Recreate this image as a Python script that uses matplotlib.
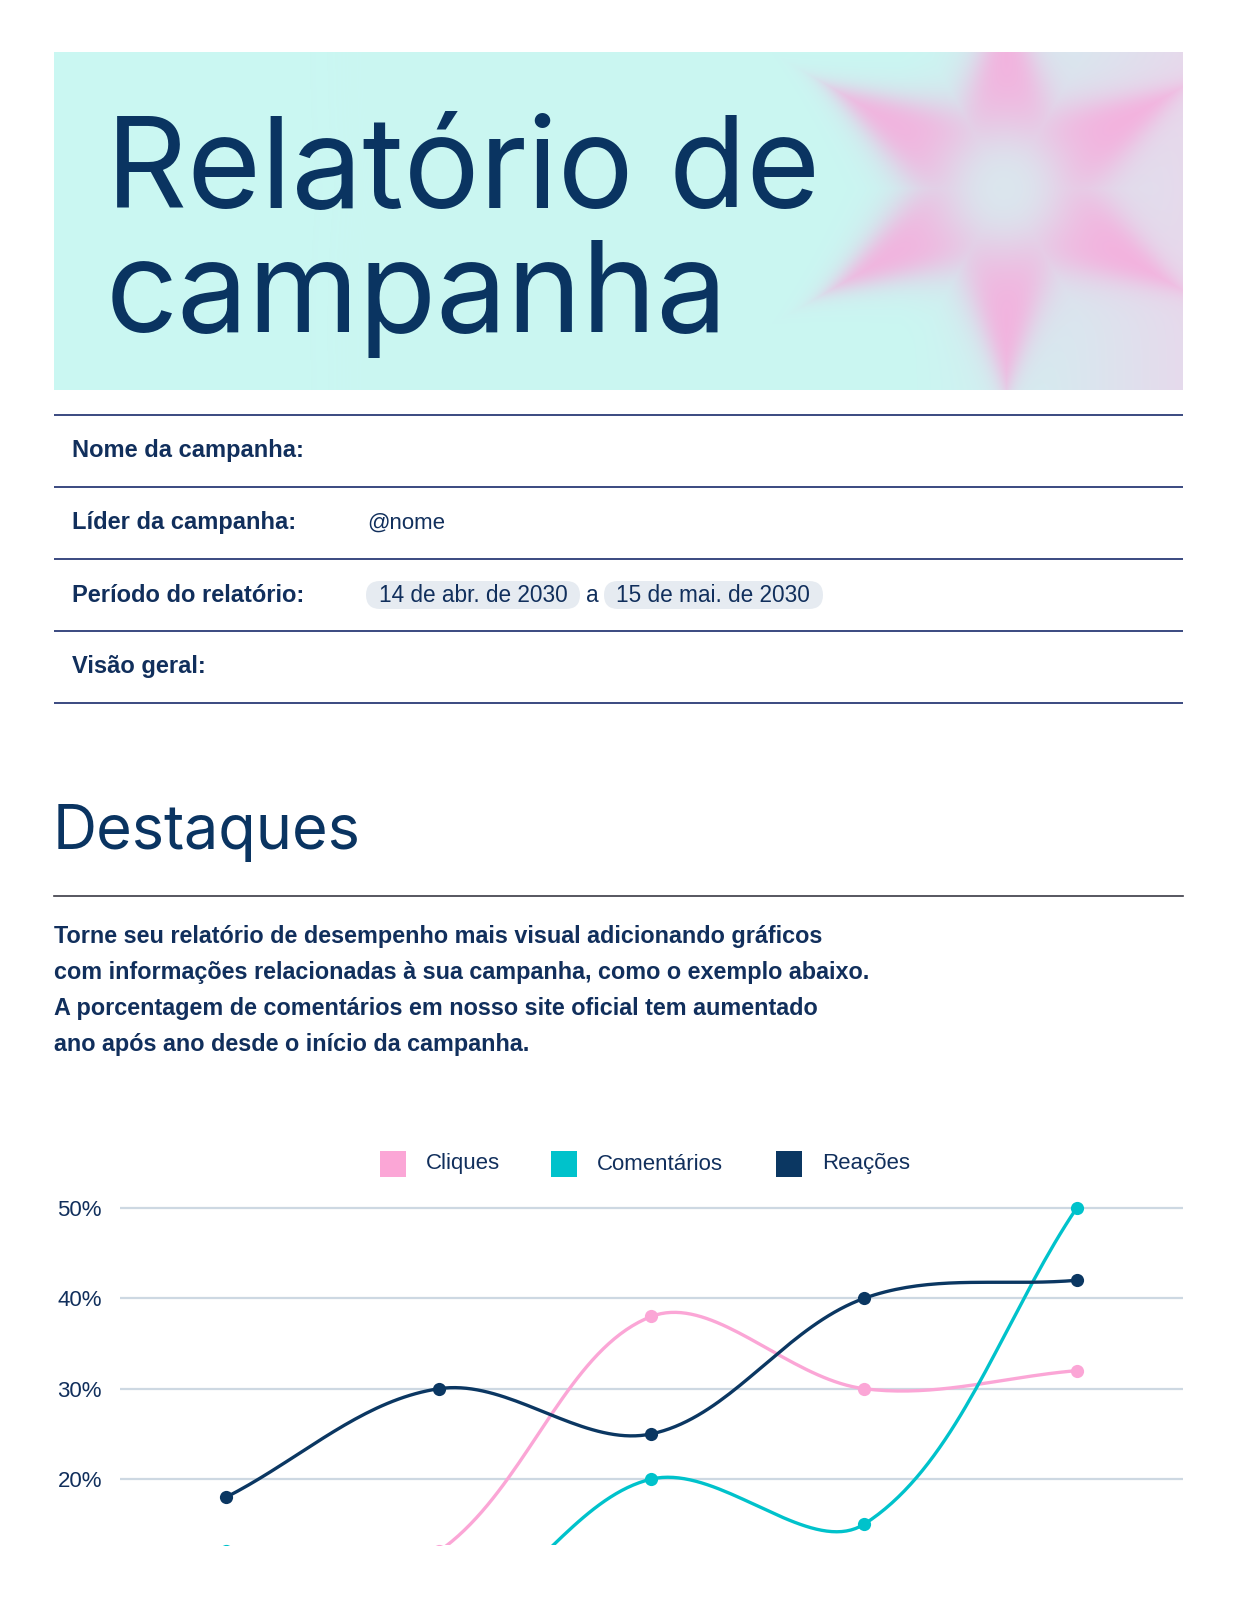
import numpy as np
import matplotlib
matplotlib.use('Agg')
import matplotlib.pyplot as plt
from matplotlib.patches import Rectangle, FancyBboxPatch

# chart data
periods = ['P1', 'P2', 'P3', 'P4', 'P5']
series_names = ['Cliques', 'Comentários', 'Reações']
cliques = [5, 12, 38, 30, 32]
comentarios = [12, 4, 20, 15, 50]
reacoes = [18, 30, 25, 40, 42]
y_ticks = [20, 30, 40, 50]
y_tick_labels = ['20%', '30%', '40%', '50%']

# page text
title_lines = ['Relatório de', 'campanha']
table_labels = ['Nome da campanha:', 'Líder da campanha:', 'Período do relatório:', 'Visão geral:']
leader = '@nome'
date_from = '14 de abr. de 2030'
date_to = '15 de mai. de 2030'
section = 'Destaques'
paragraph = ['Torne seu relatório de desempenho mais visual adicionando gráficos',
             'com informações relacionadas à sua campanha, como o exemplo abaixo.',
             'A porcentagem de comentários em nosso site oficial tem aumentado',
             'ano após ano desde o início da campanha.']

NAVY = '#0A3461'
TEXT = '#112F5C'
PINK = '#FBA6D6'
CYAN = '#00C2CB'
LINE_NAVY = '#0B3762'
GRID = '#CDD8E2'

W, H = 1237, 1600
fig = plt.figure(figsize=(W / 100, H / 100), dpi=100)
fig.patch.set_facecolor('white')


def frac(x0, y0, x1, y1):
    return [x0 / W, 1 - y1 / H, (x1 - x0) / W, (y1 - y0) / H]


# header background with blurred star
hx0, hy0, hx1, hy1 = 54, 52, 1183, 390
ax_h = fig.add_axes(frac(hx0, hy0, hx1, hy1))
ax_h.axis('off')
gx, gy = np.meshgrid(np.arange(hx0, hx1), np.arange(hy0, hy1))
cyan_bg = np.array([0xCA, 0xF7, 0xF2]) / 255
lav_bg = np.array([0xE6, 0xDA, 0xEC]) / 255
t = np.clip((gx - 900) / (hx1 - 900), 0, 1) ** 1.2
bg = cyan_bg[None, None, :] * (1 - t[..., None]) + lav_bg[None, None, :] * t[..., None]

# six-point star outline (tips up/down and at +-30 deg)
dx, dy = gx - 1006, gy - 188
r = np.hypot(dx, dy)
th = np.arctan2(-dy, dx) - np.pi / 2
phi = np.abs((th + np.pi / 6) % (np.pi / 3) - np.pi / 6)
r_out, r_in = 205, 92
tip = np.array([r_out, 0.0])
val = r_in * np.array([np.cos(np.pi / 6), np.sin(np.pi / 6)])
e = val - tip
num = tip[0] * e[1] - tip[1] * e[0]
den = np.cos(phi) * e[1] - np.sin(phi) * e[0]
R = num / den
inside = 1 / (1 + np.exp((r - R) / 16))
pale = np.exp(-(r / 60) ** 2)
w = inside * (1 - 0.8 * pale) * 0.92
pink_c = np.array([0xF5, 0xAE, 0xDD]) / 255
pale_c = np.array([0xDC, 0xE7, 0xEE]) / 255
img = bg * (1 - w[..., None]) + pink_c * w[..., None]
pw = pale * 0.7
img = img * (1 - pw[..., None]) + pale_c * pw[..., None]
ax_h.imshow(img, extent=[hx0, hx1, hy1, hy0], aspect='auto')

# overlay in pixel coordinates
ov = fig.add_axes([0, 0, 1, 1])
ov.set_xlim(0, W)
ov.set_ylim(H, 0)
ov.axis('off')
ov.patch.set_alpha(0)

ov.text(106, 208, title_lines[0], fontsize=91, family='Inter', color=NAVY, va='baseline')
ov.text(106, 332, title_lines[1], fontsize=91, family='Inter', color=NAVY, va='baseline')

for yy in [415, 487, 559, 631, 703]:
    ov.plot([54, 1183], [yy, yy], color='#2B3B76', lw=1.3, solid_capstyle='butt')
row_y = [451, 523, 595, 667]
for lab, yy in zip(table_labels, row_y):
    ov.text(72, yy, lab, fontsize=17, family='Liberation Sans', weight='bold', color=TEXT, va='center')
ov.text(367, row_y[1], leader, fontsize=16, family='Liberation Sans', color=TEXT, va='center')
for (px0, px1) in [(366, 580), (604, 823)]:
    ov.add_patch(FancyBboxPatch((px0, 581), px1 - px0, 28,
                                boxstyle='round,pad=0,rounding_size=14',
                                fc='#E6EBF1', ec='none'))
ov.text(473, row_y[2], date_from, fontsize=16.3, family='Liberation Sans', color=TEXT, va='center', ha='center')
ov.text(592, row_y[2], 'a', fontsize=16.3, family='Liberation Sans', color=TEXT, va='center', ha='center')
ov.text(713, row_y[2], date_to, fontsize=16.3, family='Liberation Sans', color=TEXT, va='center', ha='center')

ov.text(53, 849, section, fontsize=44, family='Inter', color=NAVY, va='baseline')
ov.plot([54, 1183], [896, 896], color='#3A3A44', lw=1.2)
for i, line in enumerate(paragraph):
    ov.text(54, 937 + i * 36, line, fontsize=16.8, family='Liberation Sans', weight='bold',
            color=TEXT, va='center')

# legend
colors = [PINK, CYAN, LINE_NAVY]
leg_sq_x = [380, 551, 776]
for name, c, lx in zip(series_names, colors, leg_sq_x):
    ov.add_patch(Rectangle((lx, 1151), 26, 26, fc=c, ec='none'))
    ov.text(lx + 46, 1164, name, fontsize=16, family='Liberation Sans', color=TEXT, va='center')

# chart
ax = fig.add_axes(frac(120, 1195, 1183, 1545))
x = np.arange(len(periods))
ax.set_xlim(-0.5, len(periods) - 0.5)
ax.set_ylim(12.7, 51.44)
ax.set_yticks(y_ticks)
ax.set_yticklabels(y_tick_labels)
ax.set_xticks([])
for s in ax.spines.values():
    s.set_visible(False)
ax.tick_params(axis='y', length=0, pad=13, labelsize=16, labelcolor=TEXT)
for lbl in ax.get_yticklabels():
    lbl.set_family('Liberation Sans')
ax.grid(axis='y', color=GRID, lw=1.6)
ax.set_axisbelow(True)

sx = (1183 - 120) / len(periods)
sy = (1545 - 1195) / (51.44 - 12.7)


def spline(xs, ys, tension=0.4, n=40):
    px = np.asarray(xs, float) * sx
    py = np.asarray(ys, float) * sy
    k = len(px)
    cin, cout = [], []
    for i in range(k):
        pv = (px[max(i - 1, 0)], py[max(i - 1, 0)])
        nx = (px[min(i + 1, k - 1)], py[min(i + 1, k - 1)])
        d01 = np.hypot(px[i] - pv[0], py[i] - pv[1])
        d12 = np.hypot(nx[0] - px[i], nx[1] - py[i])
        s01 = d01 / (d01 + d12)
        s12 = d12 / (d01 + d12)
        fa, fb = tension * s01, tension * s12
        cin.append((px[i] - fa * (nx[0] - pv[0]), py[i] - fa * (nx[1] - pv[1])))
        cout.append((px[i] + fb * (nx[0] - pv[0]), py[i] + fb * (nx[1] - pv[1])))
    outx, outy = [], []
    tt = np.linspace(0, 1, n)
    for i in range(k - 1):
        p0 = np.array([px[i], py[i]])
        p1 = np.array(cout[i])
        p2 = np.array(cin[i + 1])
        p3 = np.array([px[i + 1], py[i + 1]])
        b = ((1 - tt) ** 3)[:, None] * p0 + (3 * (1 - tt) ** 2 * tt)[:, None] * p1 \
            + (3 * (1 - tt) * tt ** 2)[:, None] * p2 + (tt ** 3)[:, None] * p3
        outx.extend(b[:, 0])
        outy.extend(b[:, 1])
    return np.array(outx) / sx, np.array(outy) / sy


for vals, c in zip([cliques, comentarios, reacoes], colors):
    cx, cy = spline(x, vals, tension=0.35)
    ax.plot(cx, cy, color=c, lw=2.4, solid_capstyle='round')
    ax.plot(x, vals, 'o', color=c, ms=9.5, mec='none')

fig.savefig('out.png', dpi=100)
